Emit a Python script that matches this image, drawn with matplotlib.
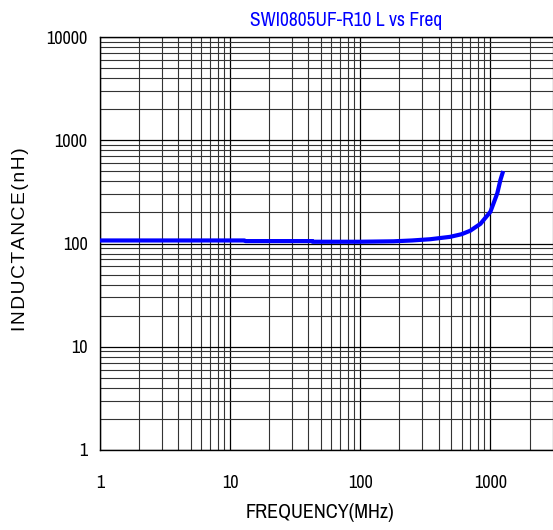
import matplotlib
matplotlib.use('Agg')
import matplotlib.pyplot as plt
from matplotlib import font_manager
from matplotlib.ticker import LogLocator, FixedLocator, NullFormatter

# data
FREQ = [1, 2, 5, 10, 12.9, 13.1, 20, 42.9, 43.1, 100, 180, 250, 345, 490, 600, 700, 838, 1000, 1130, 1193, 1253]
IND = [107, 107, 107, 107, 107, 105.5, 105.5, 105.5, 104, 104, 105, 107, 110, 116, 123, 133, 155, 203, 307, 411, 503]
XTICKS = [1, 10, 100, 1000]
XLABELS = ['1', '10', '100', '1000']
YTICKS = [1, 10, 100, 1000, 10000]
YLABELS = ['1', '10', '100', '1000', '10000']

TITLE = 'SWI0805UF-R10 L vs Freq'
XLABEL = 'FREQUENCY(MHz)'
YLABEL = 'INDUCTANCE(nH)'

names = {f.name for f in font_manager.fontManager.ttflist}
NARROW = 'Archivo Narrow' if 'Archivo Narrow' in names else 'Liberation Sans'
plt.rcParams['font.family'] = [NARROW, 'DejaVu Sans']
k = 1.0 if NARROW == 'Archivo Narrow' else 0.85

W, H = 553, 530
fig = plt.figure(figsize=(W / 100, H / 100), dpi=100)
L, R, T, B = 100, 552.5, 37, 450
ax = fig.add_axes([L / W, 1 - B / H, (R - L) / W, (B - T) / H])

ax.set_xscale('log')
ax.set_yscale('log')
ax.set_xlim(1, 3000)
ax.set_ylim(1, 10000)

ax.plot(FREQ, IND, color='#0000ff', lw=3.0, solid_capstyle='butt', zorder=3)

ax.xaxis.set_major_locator(FixedLocator(XTICKS))
ax.yaxis.set_major_locator(FixedLocator(YTICKS))
ax.set_xticklabels(XLABELS)
ax.set_yticklabels(YLABELS)
ax.xaxis.set_minor_locator(LogLocator(base=10, subs=range(2, 10), numticks=20))
ax.yaxis.set_minor_locator(LogLocator(base=10, subs=range(2, 10), numticks=20))
ax.xaxis.set_minor_formatter(NullFormatter())
ax.yaxis.set_minor_formatter(NullFormatter())

ax.grid(True, which='major', color='#000000', lw=0.9, zorder=1)
ax.grid(True, which='minor', color='#333333', lw=0.8, zorder=1)
ax.tick_params(which='both', length=0)
ax.tick_params(axis='x', pad=18, labelsize=13 * k)
ax.tick_params(axis='y', pad=9, labelsize=13 * k)

for s in ['left', 'bottom', 'top']:
    ax.spines[s].set_color('black')
    ax.spines[s].set_linewidth(1.0)
ax.spines['right'].set_color('#555555')
ax.spines['right'].set_linewidth(0.8)

fig.text(346 / W, 1 - 20 / H, TITLE, color='#0000ff', fontsize=14 * k,
         ha='center', va='center')
fig.text(320 / W, 1 - 513 / H, XLABEL, color='black', fontsize=14.5 * k,
         ha='center', va='center')
fig.text(21 / W, 1 - 239 / H, '\u200a'.join(YLABEL), color='black', fontsize=13.8,
         ha='center', va='center', rotation=90,
         family=['Liberation Sans', 'DejaVu Sans'])

fig.savefig('out.png', dpi=100, facecolor='white')
